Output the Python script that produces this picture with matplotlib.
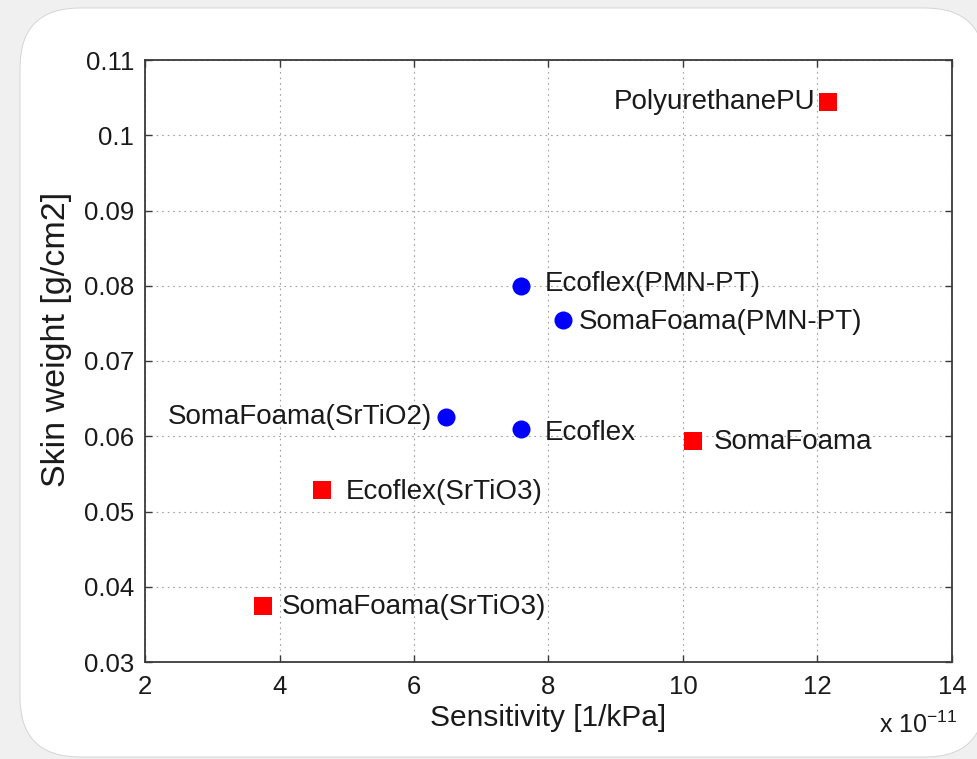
import matplotlib
matplotlib.use("Agg")
import matplotlib.pyplot as plt
from matplotlib.patches import FancyBboxPatch
from matplotlib.transforms import IdentityTransform
from matplotlib.ticker import FormatStrFormatter

plt.rcParams['font.family'] = ['Liberation Sans', 'DejaVu Sans']
plt.rcParams['mathtext.fontset'] = 'custom'
plt.rcParams['mathtext.rm'] = 'Liberation Sans'
plt.rcParams['mathtext.default'] = 'rm'

# Sensitivity in units of 1e-11 1/kPa, skin weight in g/cm2
labels = ["PolyurethanePU", "Ecoflex(PMN-PT)", "SomaFoama(PMN-PT)",
          "SomaFoama(SrTiO2)", "Ecoflex", "SomaFoama",
          "Ecoflex(SrTiO3)", "SomaFoama(SrTiO3)"]
sensitivity = [12.16, 7.59, 8.22, 6.48, 7.59, 10.15, 4.63, 3.75]
skin_weight = [0.1044, 0.0800, 0.0755, 0.0626, 0.0610, 0.0594, 0.0529, 0.0375]
marker_kind = ["s", "o", "o", "o", "o", "s", "s", "s"]

x_ticks = [2, 4, 6, 8, 10, 12, 14]
y_ticks = [0.03, 0.04, 0.05, 0.06, 0.07, 0.08, 0.09, 0.10, 0.11]

# label placement (offset in points, horizontal alignment)
label_offsets = [(-9, 0, "right"), (17, 1, "left"), (11, -2, "left"),
                 (-10, 0, "right"), (17, -3, "left"), (15, -1, "left"),
                 (17, -2, "left"), (14, -1, "left")]

TEXT = "#1a1a1a"

fig = plt.figure(figsize=(9.77, 7.59), dpi=100)
fig.patch.set_facecolor("#f0f0f0")

card = FancyBboxPatch((20, 2), 965, 749,
                      boxstyle="round,pad=0,rounding_size=60",
                      transform=IdentityTransform(),
                      facecolor="white", edgecolor="#d0d0d0", linewidth=0.6)
card.set_zorder(-10)
fig.add_artist(card)

ax = fig.add_axes([145 / 977, 1 - 662 / 759, (952 - 145) / 977, (662 - 60) / 759])
ax.set_facecolor("white")

styles = {"o": dict(color="#0000ff"), "s": dict(color="#ff0000")}
for xv, yv, mk in zip(sensitivity, skin_weight, marker_kind):
    ax.plot(xv, yv, linestyle="none", marker=mk, markersize=13 if mk == "o" else 12.5,
            markeredgewidth=0, zorder=3, **styles[mk])

for name, xv, yv, (dx, dy, ha) in zip(labels, sensitivity, skin_weight, label_offsets):
    ax.annotate(name, (xv, yv), xytext=(dx, dy), textcoords="offset points",
                ha=ha, va="center", fontsize=20, color=TEXT, zorder=4)

ax.set_xlim(2, 14)
ax.set_ylim(0.03, 0.11)
ax.set_xticks(x_ticks)
ax.set_yticks(y_ticks)
ax.yaxis.set_major_formatter(FormatStrFormatter("%g"))
ax.xaxis.set_major_formatter(FormatStrFormatter("%g"))

ax.grid(True, linestyle=(0, (1.5, 3.5)), color="#a0a0a0", linewidth=0.8)
ax.set_axisbelow(True)
for sp in ax.spines.values():
    sp.set_color("#3a3a3a")
    sp.set_linewidth(1.3)
ax.tick_params(direction="in", length=5, width=1, color="#3a3a3a",
               top=True, right=True, labelsize=18.5, labelcolor=TEXT)
ax.tick_params(axis="x", pad=9)
ax.tick_params(axis="y", pad=8)

ax.set_xlabel("Sensitivity [1/kPa]", fontsize=21.5, color=TEXT)
ax.set_ylabel("Skin weight [g/cm2]", fontsize=24.5, color=TEXT)
ax.xaxis.set_label_coords(0.5, -0.07)
ax.yaxis.set_label_coords(-0.09, 0.535)

ax.text(1.006, -0.118, "x 10$^{-11}$", transform=ax.transAxes, ha="right",
        va="baseline", fontsize=18, color=TEXT)

fig.savefig("out.png", dpi=100, facecolor=fig.get_facecolor())
